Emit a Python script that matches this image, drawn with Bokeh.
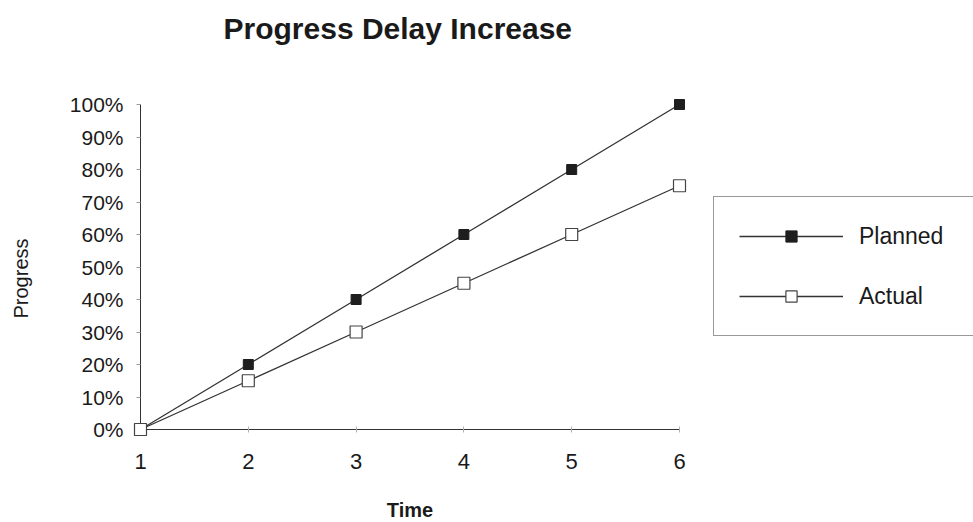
import math

from bokeh.plotting import figure
from bokeh.models import Range1d, FixedTicker, Legend, LegendItem, Label
from bokeh.embed import file_html
from bokeh.resources import INLINE

# Series values (progress in percent per time period)
time = [1, 2, 3, 4, 5, 6]
planned = [0, 20, 40, 60, 80, 100]
actual = [0, 15, 30, 45, 60, 75]

# Axis ticks and their labels
x_ticks = [1, 2, 3, 4, 5, 6]
y_ticks = [0, 10, 20, 30, 40, 50, 60, 70, 80, 90, 100]
y_tick_labels = ["0%", "10%", "20%", "30%", "40%", "50%",
                 "60%", "70%", "80%", "90%", "100%"]

FONT = "Liberation Sans"
LINE = "#333333"
TEXT = "#1a1a1a"
W, H = 973, 522

# The frame fills the whole canvas; the data box spans pixels
# 140..679 horizontally and 104..429 vertically.
px_x = (679 - 140) / (x_ticks[-1] - x_ticks[0])
px_y = (429 - 104) / (y_ticks[-1] - y_ticks[0])
x_range = Range1d(x_ticks[0] - 140 / px_x, x_ticks[-1] + (W - 679) / px_x)
y_range = Range1d(y_ticks[0] - (H - 429) / px_y, y_ticks[-1] + 104 / px_y)

p = figure(width=W, height=H, output_backend="svg", toolbar_location=None,
           x_range=x_range, y_range=y_range, min_border=0)
p.outline_line_color = None
p.xgrid.visible = False
p.ygrid.visible = False
p.background_fill_color = "white"
p.border_fill_color = "white"
p.title.visible = False

# Axes drawn through the data origin (x = 1, y = 0%)
p.xaxis.fixed_location = y_ticks[0]
p.yaxis.fixed_location = x_ticks[0]
p.xaxis.bounds = (x_ticks[0], x_ticks[-1])
p.yaxis.bounds = (y_ticks[0], y_ticks[-1])
p.xaxis.ticker = FixedTicker(ticks=x_ticks)
p.yaxis.ticker = FixedTicker(ticks=y_ticks)
p.yaxis.major_label_overrides = {t: l for t, l in zip(y_ticks, y_tick_labels)}
p.xaxis.minor_tick_line_color = None
p.yaxis.minor_tick_line_color = None

for ax in (p.xaxis[0], p.yaxis[0]):
    ax.level = "underlay"
    ax.axis_line_color = LINE
    ax.axis_line_width = 1
    ax.major_label_text_font = FONT
    ax.major_label_text_color = TEXT
    ax.axis_label_text_font = FONT
    ax.axis_label_text_color = TEXT
    ax.axis_label_text_font_style = "normal"

p.yaxis.major_tick_in = 0
p.yaxis.major_tick_out = 4
p.yaxis.major_tick_line_color = "#9a9a9a"
p.yaxis.major_label_standoff = 13
p.yaxis.major_label_text_font_size = "21px"

p.xaxis.major_tick_in = 3
p.xaxis.major_tick_out = 3
p.xaxis.major_tick_line_color = "#b0b0b0"
p.xaxis.major_label_standoff = 21
p.xaxis.major_label_text_font_size = "22px"
p.xaxis.axis_label = "Time"
p.xaxis.axis_label_text_font_size = "20px"
p.xaxis.axis_label_text_font_style = "bold"
p.xaxis.axis_label_standoff = 27

# Vertical axis title, set a little below the middle of the axis
y_title = Label(x=20, y=H - 278, x_units="screen", y_units="screen",
                text="Progress", angle=math.pi / 2, text_font=FONT,
                text_font_size="20px", text_color=TEXT,
                text_align="center", text_baseline="middle")
p.add_layout(y_title)

# Series
pl_line = p.line(time, planned, line_color=LINE, line_width=1.3)
pl_mark = p.scatter(time, planned, marker="square", size=10,
                    fill_color="#1e1e1e", line_color="#1e1e1e")
ac_line = p.line(time, actual, line_color=LINE, line_width=1.3)
ac_mark = p.scatter(time, actual, marker="square", size=12,
                    fill_color="white", line_color="#444444", line_width=1.2)

# Legend box: left edge at x = 713, top at y = 198 (runs off the right edge)
legend = Legend(items=[LegendItem(label="Planned", renderers=[pl_line, pl_mark]),
                       LegendItem(label="Actual", renderers=[ac_line, ac_mark])],
                location=(713, H - 336), orientation="vertical",
                glyph_width=104, glyph_height=28, label_height=28,
                label_width=160, label_standoff=16, padding=25, spacing=32,
                margin=0, border_line_color="#333333", border_line_width=1,
                label_text_font=FONT, label_text_font_size="23px",
                label_text_color=TEXT, background_fill_alpha=1)
p.add_layout(legend, "center")

title = Label(x=223, y=H - 28, x_units="screen", y_units="screen",
              text="Progress Delay Increase", text_font=FONT,
              text_font_size="30px", text_font_style="bold",
              text_color=TEXT, text_baseline="middle", text_align="left")
p.add_layout(title)

open("out.html", "w").write(file_html(p, INLINE))
